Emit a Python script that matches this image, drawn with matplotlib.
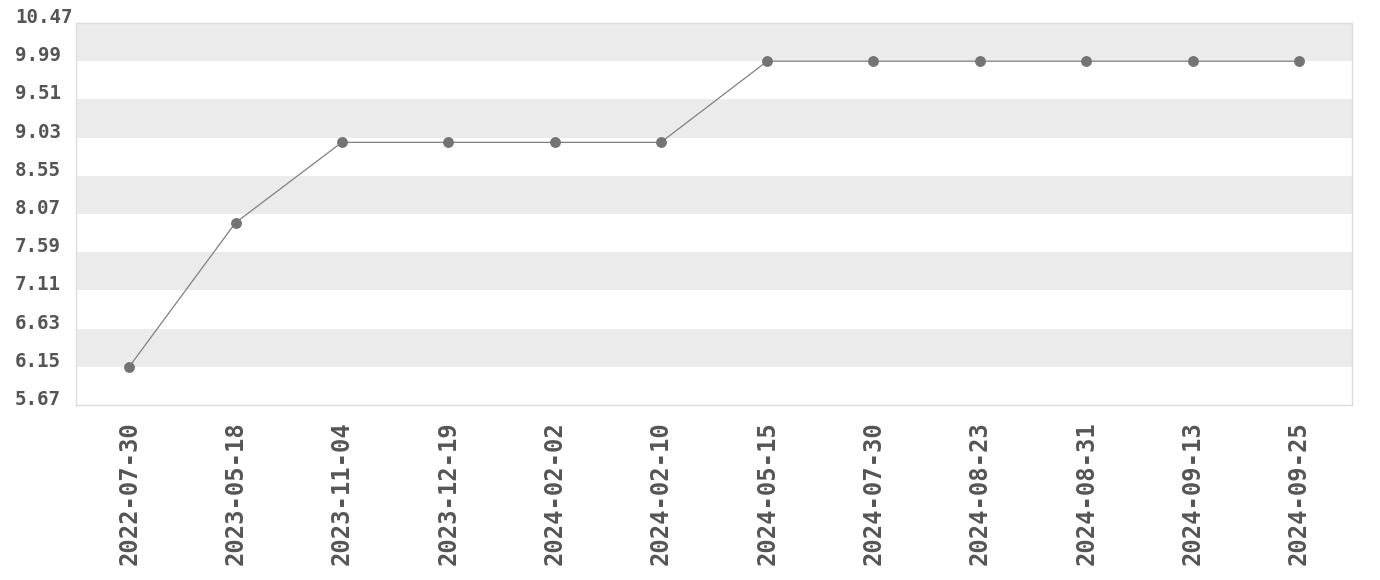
import matplotlib
matplotlib.use("Agg")
import matplotlib.pyplot as plt

dates = ["2022-07-30", "2023-05-18", "2023-11-04", "2023-12-19", "2024-02-02",
         "2024-02-10", "2024-05-15", "2024-07-30", "2024-08-23", "2024-08-31",
         "2024-09-13", "2024-09-25"]
values = [6.15, 7.96, 8.97, 8.97, 8.97, 8.97, 9.99, 9.99, 9.99, 9.99, 9.99, 9.99]

# ticks run from min - step to max + step, step = range / 8
vmin, vmax = min(values), max(values)
step = (vmax - vmin) / 8
yticks = [vmin - step + i * step for i in range(11)]

fig = plt.figure(figsize=(13.8, 5.8), dpi=100)
ax = fig.add_axes([76 / 1380, 1 - 405 / 580, 1276 / 1380, 382 / 580])

x = list(range(len(dates)))
ax.set_xlim(-0.5, len(dates) - 0.5)
ax.set_ylim(yticks[0], yticks[-1])

# alternating bands
for i in range(len(yticks) - 1):
    if i % 2 == 1:
        ax.axhspan(yticks[i], yticks[i + 1], color="#ebebeb", lw=0, zorder=0)

ax.plot(x, values, color="#808080", lw=0.9, zorder=2)
ax.plot(x, values, "o", color="#747474", ms=6.8, zorder=3)

for s in ax.spines.values():
    s.set_color("#dddddd")
    s.set_linewidth(1)

ax.set_yticks(yticks)
ax.set_yticklabels(["%.2f" % t for t in yticks])
ax.tick_params(axis="y", length=0, pad=44, labelsize=13.8, labelcolor="#555555")
for lab in ax.get_yticklabels():
    lab.set_horizontalalignment("left")
    lab.set_verticalalignment("baseline")
    lab.set_fontfamily("DejaVu Sans Mono")
    lab.set_fontweight("bold")

ax.set_xticks(x)
ax.set_xticklabels(dates, rotation=90)
ax.tick_params(axis="x", length=0, pad=12, labelsize=17.2, labelcolor="#555555")
for lab in ax.get_xticklabels():
    lab.set_fontfamily("DejaVu Sans Mono")
    lab.set_fontweight("bold")

fig.savefig("out.png", dpi=100)
